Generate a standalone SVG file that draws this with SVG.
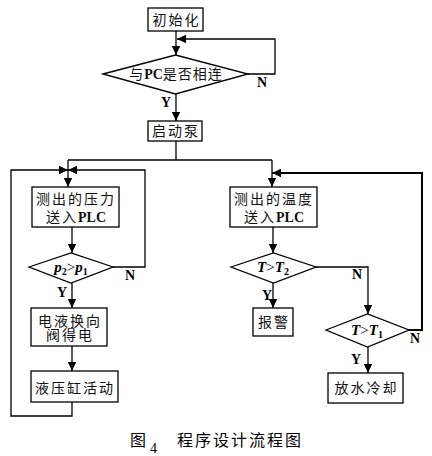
<svg xmlns="http://www.w3.org/2000/svg" width="432" height="456" viewBox="0 0 432 456">
<style>
.b{fill:#fff;stroke:#000;stroke-width:1.3}
.c{fill:none;stroke:#000;stroke-width:1.3}
.t{font-family:"Liberation Serif","Noto Sans CJK SC",serif;font-size:14px;fill:#111;text-anchor:middle;letter-spacing:2px}
.l{font-family:"Liberation Serif",serif;font-size:14px;font-weight:bold;fill:#000}
.e{font-weight:bold;letter-spacing:0}
.m{font-family:"Liberation Serif",serif;font-size:15px;fill:#000;text-anchor:middle}
.i{font-style:italic;font-weight:bold}
.s{font-size:10px;font-weight:bold}
</style>
<defs>
<marker id="a" markerUnits="userSpaceOnUse" markerWidth="10" markerHeight="10" refX="9" refY="5" orient="auto">
<path d="M0,0.8 L9,5 L0,9.2 Z" fill="#000"/>
</marker>
</defs>
<rect width="432" height="456" fill="#fff"/>
<g id="connectors">
<path class="c" d="M176 31 V55" marker-end="url(#a)"/>
<path class="c" d="M248 74 H275 V39 H177" marker-end="url(#a)"/>
<path class="c" d="M176 94 V121" marker-end="url(#a)"/>
<path class="c" d="M176 141 V160 M68 160 H272"/>
<path class="c" d="M68 160 V187" marker-end="url(#a)"/>
<path class="c" d="M272 160 V187" marker-end="url(#a)"/>
<path class="c" d="M72 402 V416 H11 V170 H68" marker-end="url(#a)"/>
<path class="c" d="M113 267 H145 V170 H68" marker-end="url(#a)"/>
<path class="c" d="M72 227 V253" marker-end="url(#a)"/>
<path class="c" d="M72 283 V308" marker-end="url(#a)"/>
<path class="c" d="M72 346 V371" marker-end="url(#a)"/>
<path class="c" d="M273 227 V253" marker-end="url(#a)"/>
<path class="c" d="M273 283 V308" marker-end="url(#a)"/>
<path class="c" d="M316 267 H368 V314" marker-end="url(#a)"/>
<path class="c" d="M368 347 V373" marker-end="url(#a)"/>
<path class="c" style="stroke-width:2" d="M408 330 H422 V173 H272" marker-end="url(#a)"/>
</g>
<g id="n-init"><rect class="b" x="148" y="8" width="55" height="23"/><text class="t" x="176.5" y="25">初始化</text></g>
<g id="n-pc"><polygon class="b" points="103,74 175.5,55 248,74 175.5,94"/><text class="t" x="176" y="79" style="letter-spacing:1px">与<tspan class="e">PC</tspan>是否相连</text></g>
<g id="n-pump"><rect class="b" x="148" y="121" width="54" height="20"/><text class="t" x="176" y="136">启动泵</text></g>
<g id="n-press"><rect class="b" x="32" y="187" width="87" height="40"/><text class="t" x="76" y="204">测出的压力</text><text class="t" x="76" y="222">送入<tspan class="e">PLC</tspan></text></g>
<g id="n-pcmp"><polygon class="b" points="29,267 71,253 113,267 71,283"/><text class="m" x="71" y="272"><tspan class="i">p</tspan><tspan class="s" dy="3">2</tspan><tspan dy="-3">&gt;</tspan><tspan class="i">p</tspan><tspan class="s" dy="3">1</tspan></text></g>
<g id="n-valve"><rect class="b" x="31" y="308" width="76" height="38"/><text class="t" x="70" y="326">电液换向</text><text class="t" x="70" y="340">阀得电</text></g>
<g id="n-cyl"><rect class="b" x="31" y="371" width="87" height="31"/><text class="t" x="75" y="393">液压缸活动</text></g>
<g id="n-temp"><rect class="b" x="230" y="187" width="87" height="40"/><text class="t" x="274" y="204">测出的温度</text><text class="t" x="274" y="222">送入<tspan class="e">PLC</tspan></text></g>
<g id="n-t2"><polygon class="b" points="231,267 273.5,253 316,267 273.5,283"/><text class="m" x="273" y="272"><tspan class="i">T</tspan>&gt;<tspan class="i">T</tspan><tspan class="s" dy="3">2</tspan></text></g>
<g id="n-alarm"><rect class="b" x="253" y="308" width="40" height="28"/><text class="t" x="274" y="327">报警</text></g>
<g id="n-t1"><polygon class="b" points="326,330 367.5,314 409,330 367.5,347"/><text class="m" x="367" y="335"><tspan class="i">T</tspan>&gt;<tspan class="i">T</tspan><tspan class="s" dy="3">1</tspan></text></g>
<g id="n-cool"><rect class="b" x="328" y="373" width="75" height="30"/><text class="t" x="366.5" y="393">放水冷却</text></g>
<g id="labels">
<text class="l" x="257" y="87">N</text>
<text class="l" x="161" y="107">Y</text>
<text class="l" x="125" y="280">N</text>
<text class="l" x="57" y="297">Y</text>
<text class="l" x="352" y="279">N</text>
<text class="l" x="262" y="300">Y</text>
<text class="l" x="410" y="343">N</text>
<text class="l" x="351" y="364">Y</text>
</g>
<g id="caption">
<text x="130" y="446" style="font-family:'Liberation Serif','Noto Sans CJK SC',serif;font-size:16px">图</text>
<text x="150" y="453" style="font-family:'Liberation Serif',serif;font-size:14px">4</text>
<text x="177" y="446" style="font-family:'Liberation Serif','Noto Sans CJK SC',serif;font-size:16px;letter-spacing:2px">程序设计流程图</text>
</g>
</svg>
